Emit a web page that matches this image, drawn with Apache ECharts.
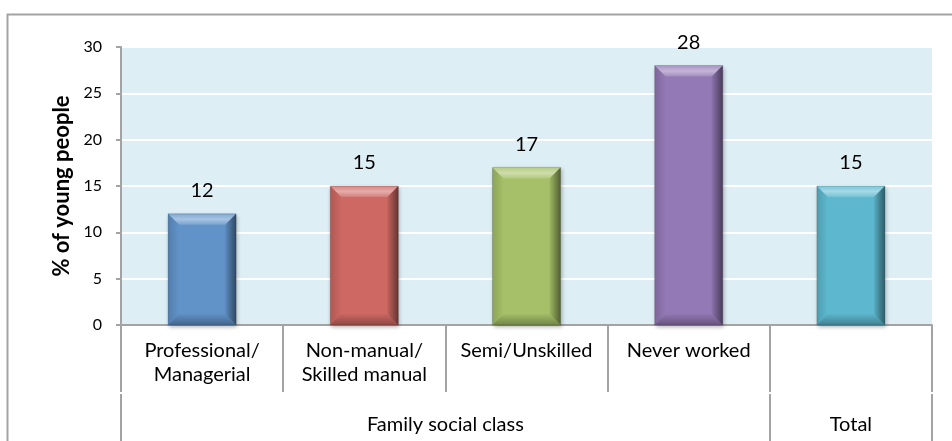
<!DOCTYPE html>
<html>
<head>
<meta charset="utf-8">
<script src="https://cdn.jsdelivr.net/npm/echarts@6/dist/echarts.min.js"></script>
<style>
  html, body { margin: 0; padding: 0; background: #fff; }
  #chart { width: 952px; height: 441px; }
</style>
</head>
<body>
<div id="chart"></div>
<script>
// data
const categories = ['Professional/\nManagerial', 'Non-manual/\nSkilled manual', 'Semi/Unskilled', 'Never worked', ''];
const values = [12, 15, 17, 28, 15];
const barColors = ['#6193c9', '#cd6863', '#a5c068', '#9379b5', '#5db8cf'];
// second level of the category axis (half-category steps, 11 points)
const groupLabels = ['', '', '', '', 'Family social class', '', '', '', '', 'Total', ''];
const groupTickAt = [0, 8, 10];
const yMin = 0, yMax = 30, yStep = 5;

const FONT = 'Lato';
const BAR_W = 68;
const BEVEL = 11;
const GREY = '#a3a3a3';

let chart = echarts.init(document.getElementById('chart'));

function bevel(params, api) {
  let i = api.value(0);
  let top = api.coord([i, api.value(1)]);
  let bot = api.coord([i, 0]);
  let x0 = top[0] - BAR_W / 2, x1 = top[0] + BAR_W / 2;
  let y0 = top[1], y1 = bot[1];
  let b = BEVEL;
  return {
    type: 'group',
    children: [
      { type: 'polygon', shape: { points: [[x0, y0], [x1, y0], [x1 - b, y0 + b], [x0 + b, y0 + b]] },
        style: { fill: new echarts.graphic.LinearGradient(0, 0, 0, 1, [
          { offset: 0, color: 'rgba(255,255,255,0.2)' }, { offset: 0.5, color: 'rgba(255,255,255,0.45)' },
          { offset: 1, color: 'rgba(255,255,255,0.15)' }]) } },
      { type: 'polygon', shape: { points: [[x0, y0], [x0 + b, y0 + b], [x0 + b, y1 - b], [x0, y1]] },
        style: { fill: new echarts.graphic.LinearGradient(0, 0, 1, 0, [
          { offset: 0, color: 'rgba(0,0,0,0.15)' }, { offset: 1, color: 'rgba(0,0,0,0)' }]) } },
      { type: 'polygon', shape: { points: [[x1, y0], [x1, y1], [x1 - b, y1 - b], [x1 - b, y0 + b]] },
        style: { fill: new echarts.graphic.LinearGradient(0, 0, 1, 0, [
          { offset: 0, color: 'rgba(0,0,0,0.05)' }, { offset: 1, color: 'rgba(0,0,0,0.5)' }]) } },
      { type: 'polygon', shape: { points: [[x0, y1], [x1, y1], [x1 - b, y1 - b], [x0 + b, y1 - b]] },
        style: { fill: new echarts.graphic.LinearGradient(0, 0, 0, 1, [
          { offset: 0, color: 'rgba(0,0,0,0.02)' }, { offset: 1, color: 'rgba(0,0,0,0.3)' }]) } },
      { type: 'rect', shape: { x: x0, y: y0, width: BAR_W, height: y1 - y0 },
        style: { fill: 'none', stroke: 'rgba(0,0,0,0.15)', lineWidth: 1 } }
    ]
  };
}

chart.setOption({
  animation: false,
  textStyle: { fontFamily: FONT },
  graphic: [{
    type: 'rect', left: 5, top: 12, silent: true,
    shape: { width: 960, height: 440 },
    style: { fill: 'none', stroke: GREY, lineWidth: 2 }
  }],
  grid: {
    left: 121, right: 20, top: 47, bottom: 116,
    show: true, backgroundColor: '#ddeef5', borderWidth: 0
  },
  xAxis: [{
    type: 'category',
    data: categories,
    axisLine: { lineStyle: { color: GREY, width: 2 } },
    axisTick: { show: true, interval: 0, length: 67, lineStyle: { color: GREY, width: 2 } },
    axisLabel: { interval: 0, color: '#000', fontSize: 20, lineHeight: 24, margin: 14 }
  }, {
    type: 'category',
    data: groupLabels,
    position: 'bottom',
    offset: 69,
    boundaryGap: false,
    axisLine: { show: false },
    axisTick: { show: true, length: 50, interval: function (idx) { return groupTickAt.indexOf(idx) >= 0; },
      lineStyle: { color: GREY, width: 2 } },
    axisLabel: { interval: 0, color: '#000', fontSize: 20, lineHeight: 24, margin: 19 }
  }],
  yAxis: {
    type: 'value',
    min: yMin, max: yMax, interval: yStep,
    name: '% of young people',
    nameLocation: 'middle',
    nameGap: 47,
    nameTextStyle: { fontSize: 22, fontWeight: 'bold', color: '#000' },
    axisLine: { show: true, lineStyle: { color: GREY, width: 2 } },
    axisTick: { show: true, length: 5, lineStyle: { color: GREY, width: 2 } },
    axisLabel: { color: '#000', fontSize: 16, margin: 19 },
    splitLine: { lineStyle: { color: '#fff', width: 2 } }
  },
  series: [{
    type: 'bar',
    data: values.map(function (v, i) { return { value: v, itemStyle: { color: barColors[i] } }; }),
    barWidth: BAR_W,
    itemStyle: { shadowColor: 'rgba(0,0,0,0.3)', shadowBlur: 4, shadowOffsetX: 1, shadowOffsetY: 2 },
    label: { show: true, position: 'top', distance: 13, fontSize: 20, color: '#000' },
    z: 2
  }, {
    type: 'custom',
    renderItem: bevel,
    data: values.map(function (v, i) { return [i, v]; }),
    encode: { x: 0, y: 1 },
    silent: true,
    z: 3
  }]
});
</script>
</body>
</html>
